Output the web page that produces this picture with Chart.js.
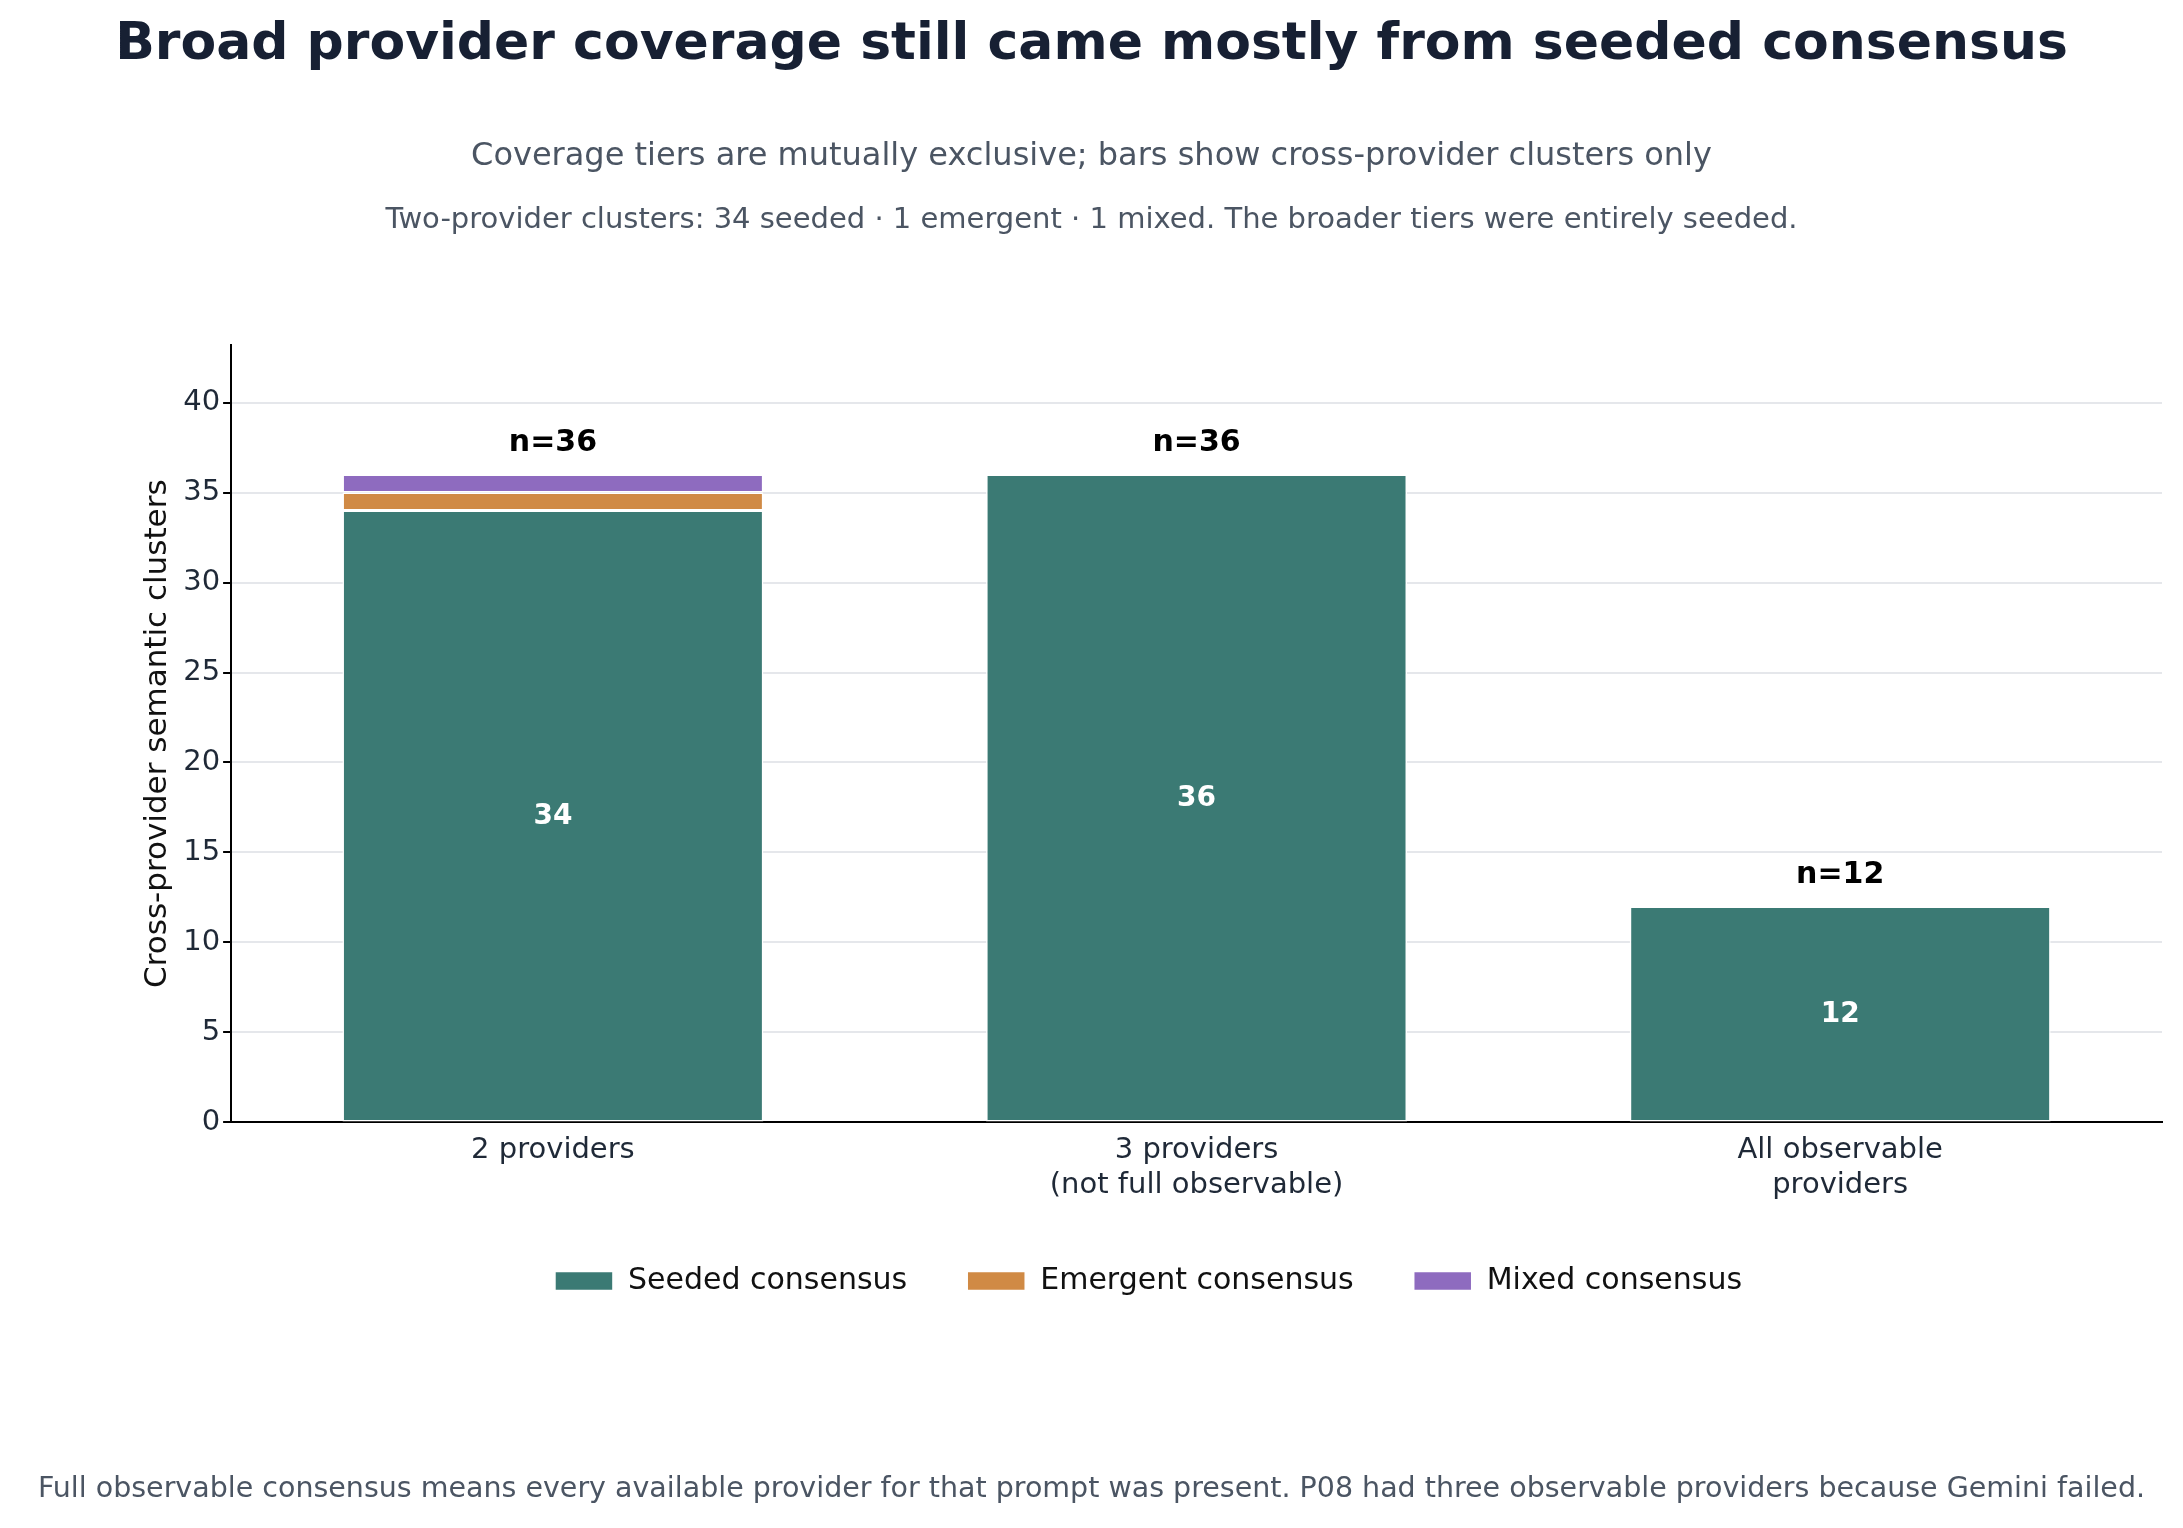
<!DOCTYPE html>
<html><head><meta charset="utf-8">
<script src="https://cdn.jsdelivr.net/npm/chart.js@4"></script>
<style>html,body{margin:0;padding:0;background:#fff}#wrap{width:2183px;height:1528px;position:relative}</style>
</head><body><div id="wrap"><canvas id="c" width="2183" height="1528"></canvas></div>
<script>
const categories = [['2 providers'], ['3 providers', '(not full observable)'], ['All observable', 'providers']];
const seeded = [34, 36, 12];
const emergent = [1, 0, 0];
const mixed = [1, 0, 0];
const totals = [36, 36, 12];
const font = "'DejaVu Sans', sans-serif";

const textPlugin = {
  id: 'texts',
  afterDraw(chart) {
    const ctx = chart.ctx;
    const W = chart.width;
    ctx.save();
    ctx.textAlign = 'center';
    ctx.textBaseline = 'middle';
    ctx.fillStyle = '#172033';
    ctx.font = `bold 52px ${font}`;
    ctx.fillText('Broad provider coverage still came mostly from seeded consensus', W / 2, 45);
    ctx.fillStyle = '#4b5563';
    ctx.font = `32px ${font}`;
    ctx.fillText('Coverage tiers are mutually exclusive; bars show cross-provider clusters only', W / 2, 157);
    ctx.font = `29px ${font}`;
    ctx.fillText('Two-provider clusters: 34 seeded · 1 emergent · 1 mixed. The broader tiers were entirely seeded.', W / 2, 220);
    ctx.font = `28.5px ${font}`;
    ctx.fillText('Full observable consensus means every available provider for that prompt was present. P08 had three observable providers because Gemini failed.', W / 2, 1490);

    const y = chart.scales.y;
    const meta = chart.getDatasetMeta(0);
    meta.data.forEach((bar, i) => {
      ctx.fillStyle = '#fff';
      ctx.font = `bold 28px ${font}`;
      ctx.fillText(String(seeded[i]), bar.x, y.getPixelForValue(seeded[i] / 2));
      ctx.fillStyle = '#000';
      ctx.font = `bold 30px ${font}`;
      ctx.fillText('n=' + totals[i], bar.x, y.getPixelForValue(totals[i]) - 31);
    });
    ctx.restore();
  }
};

new Chart(document.getElementById('c'), {
  type: 'bar',
  data: {
    labels: categories,
    datasets: [
      { label: 'Seeded consensus', data: seeded, backgroundColor: '#3b7a74' },
      { label: 'Emergent consensus', data: emergent, backgroundColor: '#d08a45' },
      { label: 'Mixed consensus', data: mixed, backgroundColor: '#8e6bbf' }
    ].map(d => Object.assign(d, { borderColor: '#fff', borderWidth: 1.5, borderSkipped: false, barPercentage: 0.654, categoryPercentage: 1 }))
  },
  options: {
    responsive: false,
    animation: false,
    layout: { padding: { top: 345, left: 135, right: 21, bottom: 222 } },
    plugins: {
      legend: {
        position: 'bottom',
        labels: { font: { family: font, size: 30 }, color: '#111', boxWidth: 58, boxHeight: 19, padding: 60 }
      },
      tooltip: { enabled: false }
    },
    scales: {
      x: {
        stacked: true,
        grid: { display: false },
        border: { color: '#000', width: 2 },
        ticks: { font: { family: font, size: 29 }, color: '#1f2937' }
      },
      y: {
        stacked: true,
        min: 0, max: 43.2,
        afterBuildTicks(axis) { axis.ticks = [0, 5, 10, 15, 20, 25, 30, 35, 40].map(v => ({ value: v })); },
        grid: { color: '#e5e7eb', lineWidth: 2, drawTicks: true, tickColor: '#000', tickLength: 8 },
        border: { color: '#000', width: 2 },
        ticks: { font: { family: font, size: 29 }, color: '#1f2937' },
        title: { display: true, text: 'Cross-provider semantic clusters', font: { family: font, size: 31 }, color: '#111' }
      }
    }
  },
  plugins: [textPlugin]
});
</script></body></html>
